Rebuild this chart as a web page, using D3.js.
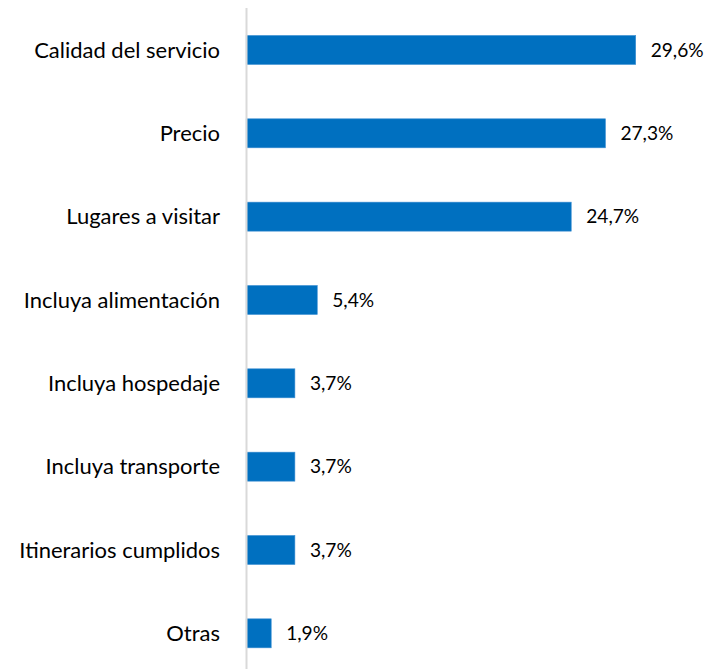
<!DOCTYPE html>
<html><head><meta charset="utf-8">
<script src="https://cdn.jsdelivr.net/npm/d3@7"></script>
<style>body{margin:0;background:#fff}svg{display:block}</style>
</head><body>
<script>
const categories = ["Calidad del servicio","Precio","Lugares a visitar","Incluya alimentación","Incluya hospedaje","Incluya transporte","Itinerarios cumplidos","Otras"];
const values = [29.6,27.3,24.7,5.4,3.7,3.7,3.7,1.9];
const valueLabels = ["29,6%","27,3%","24,7%","5,4%","3,7%","3,7%","3,7%","1,9%"];

const W=709,H=669;
const svg=d3.select("body").append("svg").attr("width",W).attr("height",H);
const x=d3.scaleLinear().domain([0,29.6]).range([246.2,635.7]);
const y=d3.scaleBand().domain(categories).range([8.3,675]).paddingInner(0.652).paddingOuter(0.326);
const font="Lato, 'Open Sans', sans-serif";

svg.selectAll("rect.bar").data(values).join("rect").attr("class","bar")
  .attr("x",x(0)).attr("y",(d,i)=>y(categories[i]))
  .attr("width",d=>x(d)-x(0)).attr("height",y.bandwidth())
  .attr("fill","#0070C0").attr("stroke","#3d8fd3").attr("stroke-width",0.6);

svg.append("line").attr("x1",246.5).attr("x2",246.5).attr("y1",8).attr("y2",H)
  .attr("stroke","#d9d9d9").attr("stroke-width",2);

const cat=svg.selectAll("text.cat").data(categories).join("text").attr("class","cat")
  .attr("x",220).attr("y",d=>y(d)+y.bandwidth()/2).attr("dy","0.35em")
  .attr("text-anchor","end").attr("font-family",font).attr("font-size",20).attr("fill","#000")
  .text(d=>d);
// fit font size to reference label width
const w0=cat.nodes()[0].getComputedTextLength();
cat.attr("font-size",20*186/w0);

const val=svg.selectAll("text.val").data(values).join("text").attr("class","val")
  .attr("x",d=>x(d)+15).attr("y",(d,i)=>y(categories[i])+y.bandwidth()/2).attr("dy","0.35em")
  .attr("font-family",font).attr("font-size",16).attr("fill","#000")
  .text((d,i)=>valueLabels[i]);
const v0=val.nodes()[0].getComputedTextLength();
val.attr("font-size",16*53/v0);
</script>
</body></html>
